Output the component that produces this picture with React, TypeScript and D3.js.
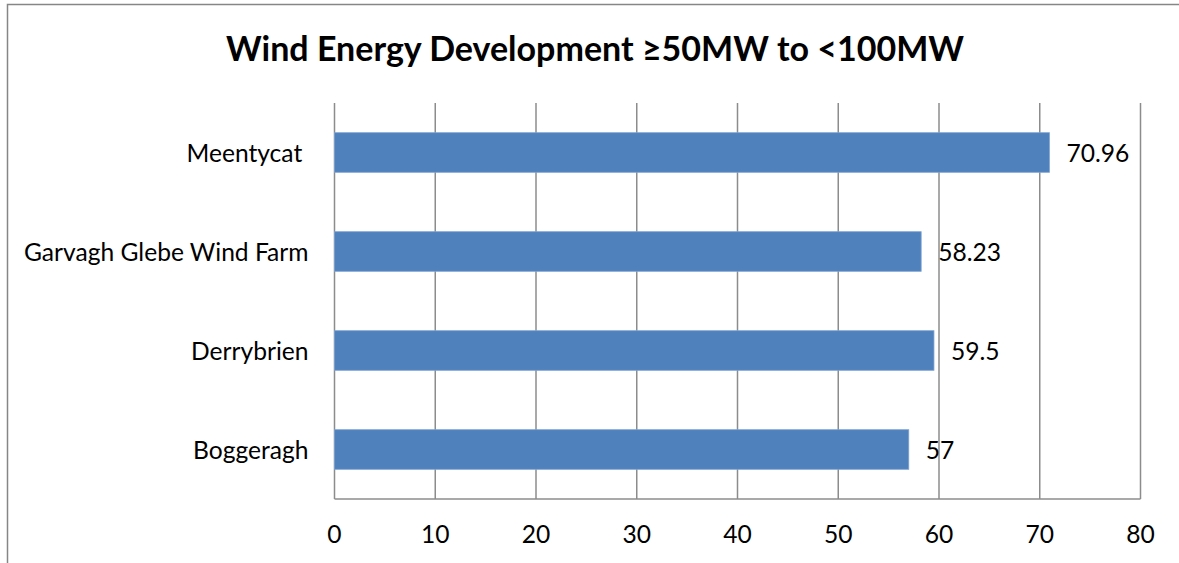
import * as d3 from 'd3';

const categories = ['Meentycat ', 'Garvagh Glebe Wind Farm', 'Derrybrien', 'Boggeragh'];
const values = [70.96, 58.23, 59.5, 57];
const valueLabels = ['70.96', '58.23', '59.5', '57'];
const xTicks = [0, 10, 20, 30, 40, 50, 60, 70, 80];
const title = 'Wind Energy Development \u226550MW to <100MW';

export default function App() {
  const width = 1179;
  const height = 563;
  const margin = { top: 103, left: 334.5, right: 38.5, bottom: 64 };
  const font = 'Lato, "Open Sans", sans-serif';
  const labelSize = 24.6;

  const x = d3.scaleLinear().domain([0, 80]).range([margin.left, width - margin.right]);
  const y = d3
    .scaleBand<string>()
    .domain(categories)
    .range([margin.top, height - margin.bottom])
    .paddingInner(0.6)
    .paddingOuter(0.3);

  const gridColor = '#8c8c8c';

  return (
    <svg
      width={width}
      height={height}
      style={{ position: 'fixed', left: 0, top: 0, background: '#fff', display: 'block' }}
      fontFamily={font}
    >
      {/* chart frame: only the left and top edges fall inside the picture */}
      <path d={`M7.5,${height}V4.5H${width}`} fill="none" stroke="#868686" strokeWidth={1.5} />

      <text x={595} y={61} textAnchor="middle" fontSize={34} fontWeight="bold" fill="#000">
        {title}
      </text>

      {/* vertical gridlines */}
      {xTicks.map((t) => (
        <line
          key={t}
          x1={x(t)}
          x2={x(t)}
          y1={margin.top}
          y2={height - margin.bottom}
          stroke={gridColor}
          strokeWidth={1.5}
        />
      ))}
      {/* x axis */}
      <line
        x1={x(0)}
        x2={x(80)}
        y1={height - margin.bottom}
        y2={height - margin.bottom}
        stroke={gridColor}
        strokeWidth={1.5}
      />

      {/* bars */}
      {categories.map((c, i) => (
        <g key={c}>
          <rect
            x={x(0)}
            y={y(c)}
            width={x(values[i]) - x(0)}
            height={y.bandwidth()}
            fill="#4f81bd"
            stroke="#7fa3d1"
            strokeWidth={0.8}
          />
          <text
            x={x(values[i]) + 17}
            y={y(c)! + y.bandwidth() / 2}
            dominantBaseline="central"
            fontSize={labelSize}
            fill="#000"
          >
            {valueLabels[i]}
          </text>
          <text
            x={x(0) - 26}
            y={y(c)! + y.bandwidth() / 2}
            dominantBaseline="central"
            textAnchor="end"
            fontSize={labelSize}
            fill="#000"
            style={{ whiteSpace: 'pre' }}
          >
            {c}
          </text>
        </g>
      ))}

      {/* x tick labels */}
      {xTicks.map((t) => (
        <text key={t} x={x(t)} y={543} textAnchor="middle" fontSize={labelSize} fill="#000">
          {t}
        </text>
      ))}
    </svg>
  );
}
